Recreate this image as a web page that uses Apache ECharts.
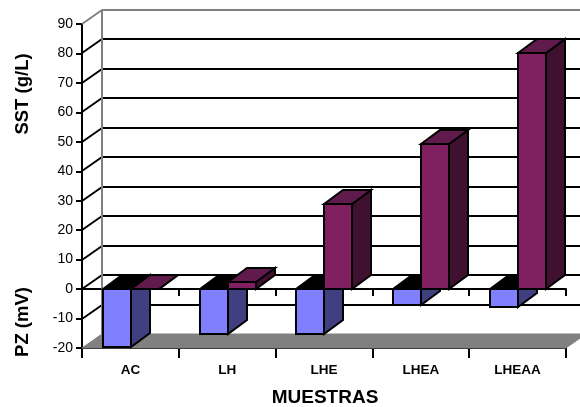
<!DOCTYPE html>
<html>
<head>
<meta charset="utf-8">
<style>html,body{margin:0;padding:0;background:#fff}#chart{width:580px;height:407px}</style>
<script src="https://cdn.jsdelivr.net/npm/echarts@6/dist/echarts.min.js"></script>
</head>
<body>
<div id="chart"></div>
<script>
// Sample groups along the horizontal axis
const categories = ['AC', 'LH', 'LHE', 'LHEA', 'LHEAA'];
// PZ (mV), drawn below zero
const pzValues = [-19.5, -15.3, -15.3, -5.5, -6];
// SST (g/L), drawn above zero
const sstValues = [0, 2.5, 29, 49.4, 80.3];
// Levels of the back-wall rules
const wallLevels = [-10, 0, 10, 20, 30, 40, 50, 60, 70, 80];

const FONT = '"Liberation Sans", Arial, sans-serif';
const WALL_DX = 20, WALL_DY = 14;   // oblique depth of the plot box
const BAR_DX = 19, BAR_DY = 14;     // oblique depth of each column
const BAR_SHARE = 0.29;             // column width as a share of a category band

const BLUE = { front: '#8080ff', side: '#404080', top: '#000000' };
const PLUM = { front: '#802060', side: '#401030', top: '#601a4c' };
const EDGE = { stroke: '#000', lineWidth: 2, lineJoin: 'miter' };

const poly = (points, fill, style) => ({
  type: 'polygon',
  shape: { points },
  style: Object.assign({ fill }, style || EDGE)
});
const line = (x1, y1, x2, y2, stroke, lineWidth) => ({
  type: 'line',
  shape: { x1, y1, x2, y2 },
  style: { stroke, lineWidth: lineWidth || 2, fill: null }
});

// Back wall: one rule and one side-wall diagonal per level
function renderWallLevel(params, api) {
  const g = params.coordSys;
  const y = Math.round(api.coord([0, api.value(1)])[1]);
  return {
    type: 'group',
    children: [
      line(g.x, y, g.x + WALL_DX, y - WALL_DY, '#000'),
      line(g.x + WALL_DX, y - WALL_DY, g.x + g.width + WALL_DX, y - WALL_DY, '#000')
    ]
  };
}

// Grey frame of the box and the floor under the columns
function renderFrame(params, api) {
  const g = params.coordSys;
  const left = g.x, right = g.x + g.width;
  const top = Math.round(api.coord([0, 90])[1]);
  const bottom = Math.round(api.coord([0, -20])[1]);
  const grey = '#808080';
  return {
    type: 'group',
    children: [
      poly([[left, bottom], [left + WALL_DX, bottom - WALL_DY],
            [right + WALL_DX, bottom - WALL_DY], [right, bottom]], grey, { stroke: grey, lineWidth: 1 }),
      line(left + WALL_DX, top - WALL_DY, left + WALL_DX, bottom - WALL_DY, grey),
      line(left, top, left + WALL_DX, top - WALL_DY, grey),
      line(left + WALL_DX, top - WALL_DY, right + WALL_DX, top - WALL_DY, grey)
    ]
  };
}

// Oblique column running from zero to its value
function columnRenderer(colors, slot) {
  return function (params, api) {
    const i = api.value(0);
    const zero = api.coord([i, 0]);
    const end = api.coord([i, api.value(1)]);
    const w = Math.round(api.size([1, 0])[0] * BAR_SHARE);
    const x0 = Math.ceil(zero[0]) + slot * w;
    const x1 = x0 + w;
    const y0 = Math.round(zero[1]);
    const y1 = Math.round(end[1]);
    const yTop = Math.min(y0, y1);
    const yBase = Math.max(y0, y1);
    return {
      type: 'group',
      children: [
        poly([[x1, yTop], [x1 + BAR_DX, yTop - BAR_DY], [x1 + BAR_DX, yBase - BAR_DY], [x1, yBase]], colors.side),
        poly([[x0, yTop], [x0 + BAR_DX, yTop - BAR_DY], [x1 + BAR_DX, yTop - BAR_DY], [x1, yTop]], colors.top),
        poly([[x0, yTop], [x1, yTop], [x1, yBase], [x0, yBase]], colors.front)
      ]
    };
  };
}

const sharedAxis = { type: 'category', data: categories, boundaryGap: true };
const axisStroke = { color: '#000', width: 2 };

const chart = echarts.init(document.getElementById('chart'), null, { renderer: 'canvas' });
chart.setOption({
  animation: false,
  backgroundColor: '#fff',
  grid: { left: 82, right: 14, top: 24, height: 324, containLabel: false },
  xAxis: [
    Object.assign({}, sharedAxis, {
      position: 'bottom',
      axisLine: { onZero: false, lineStyle: axisStroke },
      axisTick: { show: true, length: 10, lineStyle: axisStroke, alignWithLabel: false },
      axisLabel: { color: '#000', fontFamily: FONT, fontSize: 13.5, fontWeight: 'bold', margin: 15, interval: 0 },
      splitLine: { show: false }
    }),
    Object.assign({}, sharedAxis, {
      position: 'bottom',
      axisLine: { onZero: true, lineStyle: axisStroke },
      axisTick: { show: true, length: 7, lineStyle: axisStroke },
      axisLabel: { show: false },
      splitLine: { show: false }
    })
  ],
  yAxis: {
    type: 'value',
    min: -20,
    max: 90,
    interval: 10,
    axisLine: { show: true, onZero: false, lineStyle: axisStroke },
    axisTick: { show: true, length: 6, lineStyle: axisStroke },
    axisLabel: { color: '#000', fontFamily: FONT, fontSize: 14, margin: 9 },
    splitLine: { show: false }
  },
  series: [
    {
      type: 'custom', z: 1, clip: false, silent: true,
      data: wallLevels.map(v => [0, v]),
      renderItem: renderWallLevel
    },
    {
      type: 'custom', z: 1, clip: false, silent: true,
      data: [[0, 0]],
      renderItem: renderFrame
    },
    {
      type: 'custom', z: 2, clip: false, silent: true,
      data: pzValues.map((v, i) => [i, v]),
      renderItem: columnRenderer(BLUE, -1)
    },
    {
      type: 'custom', z: 3, clip: false, silent: true,
      data: sstValues.map((v, i) => [i, v]),
      renderItem: columnRenderer(PLUM, 0)
    }
  ],
  graphic: [
    { type: 'text', x: 23, y: 94, rotation: Math.PI / 2,
      style: { text: 'SST (g/L)', font: 'bold 18.5px ' + FONT, fill: '#000', align: 'center', verticalAlign: 'middle' } },
    { type: 'text', x: 23, y: 322, rotation: Math.PI / 2,
      style: { text: 'PZ (mV)', font: 'bold 18.5px ' + FONT, fill: '#000', align: 'center', verticalAlign: 'middle' } },
    { type: 'text', x: 325, y: 398,
      style: { text: 'MUESTRAS', font: 'bold 19px ' + FONT, fill: '#000', align: 'center', verticalAlign: 'middle' } }
  ]
});
</script>
</body>
</html>
